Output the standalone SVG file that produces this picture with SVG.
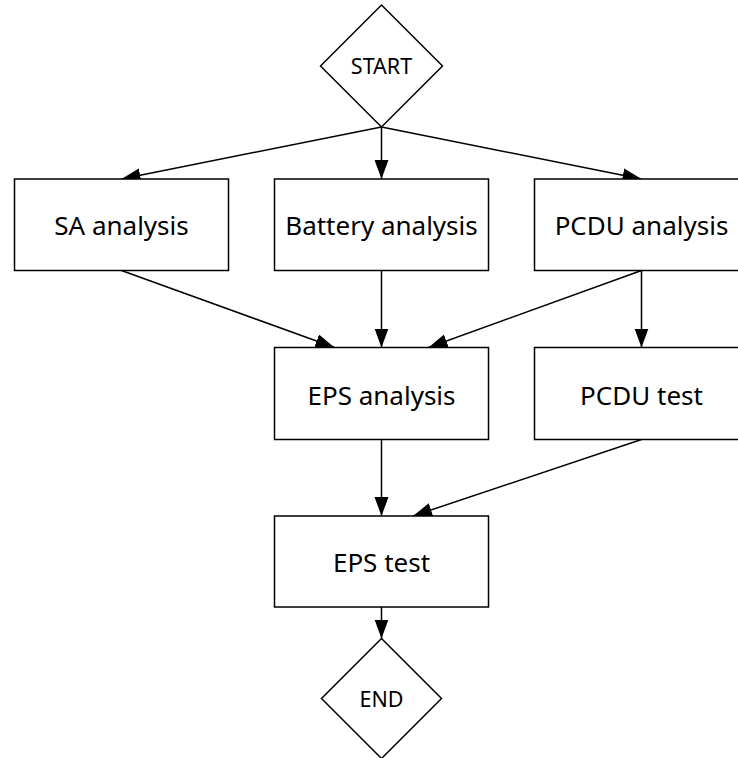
<svg xmlns="http://www.w3.org/2000/svg" width="738" height="758" viewBox="0 0 738 758">
<style>
.n{fill:#fff;stroke:#000;stroke-width:1.5}
.t{font-family:"Noto Sans","Open Sans",sans-serif;font-size:26px;fill:#000;text-anchor:middle}
.s{font-family:"Noto Sans","Open Sans",sans-serif;font-size:21.5px;fill:#000;text-anchor:middle}
.e{fill:none;stroke:#000;stroke-width:1.5;marker-end:url(#ah)}
</style>
<defs>
<marker id="ah" markerUnits="userSpaceOnUse" markerWidth="21" markerHeight="15" refX="19" refY="7" orient="auto">
<path d="M0,0 L19,7 L0,14 Z" fill="#000"/>
</marker>
</defs>
<rect width="738" height="758" fill="#fff"/>
<g id="connectors">
<line class="e" x1="381.5" y1="127" x2="121.5" y2="179"/>
<line class="e" x1="381.5" y1="127" x2="381.5" y2="179"/>
<line class="e" x1="381.5" y1="127" x2="641.5" y2="179"/>
<line class="e" x1="121.5" y1="270.5" x2="334.5" y2="347.5"/>
<line class="e" x1="381.5" y1="270.5" x2="381.5" y2="347.5"/>
<line class="e" x1="641.5" y1="270.5" x2="428.5" y2="347.5"/>
<line class="e" x1="641.5" y1="270.5" x2="641.5" y2="347.5"/>
<line class="e" x1="381.5" y1="439.5" x2="381.5" y2="516"/>
<line class="e" x1="641.5" y1="439.5" x2="413" y2="516"/>
<line class="e" x1="381.5" y1="607" x2="381.5" y2="638.5"/>
</g>
<g id="start">
<polygon class="n" points="381.5,5 442.5,66 381.5,127 320.5,66"/>
<text class="s" x="381.5" y="73.5">START</text>
</g>
<g id="sa">
<rect class="n" x="14.5" y="179" width="214" height="91.5"/>
<text class="t" x="121.5" y="235">SA analysis</text>
</g>
<g id="battery">
<rect class="n" x="274.5" y="179" width="214" height="91.5"/>
<text class="t" x="381.5" y="235">Battery analysis</text>
</g>
<g id="pcdu">
<rect class="n" x="534.5" y="179" width="214" height="91.5"/>
<text class="t" x="641.5" y="235">PCDU analysis</text>
</g>
<g id="eps_analysis">
<rect class="n" x="274.5" y="347.5" width="214" height="92"/>
<text class="t" x="381.5" y="404.5">EPS analysis</text>
</g>
<g id="pcdu_test">
<rect class="n" x="534.5" y="347.5" width="214" height="92"/>
<text class="t" x="641.5" y="404.5">PCDU test</text>
</g>
<g id="eps_test">
<rect class="n" x="274.5" y="516" width="214" height="91"/>
<text class="t" x="381.5" y="572">EPS test</text>
</g>
<g id="end">
<polygon class="n" points="381.5,638.5 441.5,698.5 381.5,758.5 321.5,698.5"/>
<text class="s" x="381.5" y="706.5">END</text>
</g>
</svg>
